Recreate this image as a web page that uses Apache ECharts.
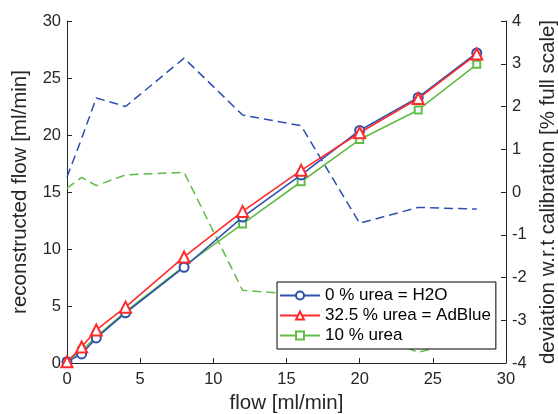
<!DOCTYPE html>
<html><head><meta charset="utf-8">
<script src="https://cdn.jsdelivr.net/npm/echarts@6/dist/echarts.min.js"></script>
<style>html,body{margin:0;padding:0;background:#fff}#c{width:558px;height:414px}</style>
</head><body><div id="c"></div>
<script>
const flow = [0, 1, 2, 4, 8, 12, 16, 20, 24, 28];
const h2o = [0.1, 0.8, 2.2, 4.4, 8.4, 12.8, 16.5, 20.4, 23.3, 27.2];
const adblue = [0.1, 1.4, 2.9, 4.9, 9.3, 13.3, 16.9, 20.2, 23.2, 27.1];
const urea10 = [0.1, 1.1, 2.3, 4.5, 8.5, 12.2, 15.9, 19.6, 22.2, 26.2];
const devH2o = [0.35, 1.25, 2.2, 2.0, 3.13, 1.8, 1.55, -0.73, -0.36, -0.4];
const devUrea10 = [0.09, 0.34, 0.15, 0.4, 0.46, -2.3, -2.4, -3.2, -3.75, -3.4];
const seriesNames = ['0 % urea = H2O', '32.5 % urea = AdBlue', '10 % urea'];
const xTicks = [0, 5, 10, 15, 20, 25, 30];

const blue = '#2d50b0', red = '#ff2b2b', green = '#62bb45';
const font = 'Liberation Sans, Arial, sans-serif';
const axisCol = '#262626';
const pair = (xs, ys) => xs.map((x, i) => [x, ys[i]]);

const chart = echarts.init(document.getElementById('c'), null, {renderer: 'canvas'});
const axisCommon = {
  axisLine: {show: true, lineStyle: {color: axisCol, width: 1}},
  axisTick: {show: true, inside: true, length: 5, lineStyle: {color: axisCol}},
  splitLine: {show: false},
  axisLabel: {color: axisCol, fontSize: 16.5, fontFamily: font},
  nameTextStyle: {color: axisCol, fontSize: 20.5, fontFamily: font},
  nameLocation: 'middle'
};
chart.setOption({
  animation: false,
  backgroundColor: '#fff',
  grid: {left: 67, right: 52, top: 21, bottom: 51, containLabel: false, outerBoundsMode: 'none'},
  legend: {
    data: seriesNames,
    orient: 'vertical',
    left: 277, top: 282,
    itemWidth: 40, itemHeight: 10, itemGap: 3,
    padding: [5, 5, 5, 2],
    borderColor: '#000', borderWidth: 1,
    backgroundColor: '#fff',
    textStyle: {fontSize: 17, fontFamily: font, color: '#000', lineHeight: 16}
  },
  xAxis: Object.assign({}, axisCommon, {
    type: 'value', min: 0, max: 30, interval: 5,
    name: 'flow [ml/min]', nameGap: 29,
    axisLabel: Object.assign({}, axisCommon.axisLabel, {margin: 8})
  }),
  yAxis: [
    Object.assign({}, axisCommon, {
      type: 'value', min: 0, max: 30, interval: 5, position: 'left',
      name: 'reconstructed flow [ml/min]', nameGap: 36,
      axisLabel: Object.assign({}, axisCommon.axisLabel, {margin: 6})
    }),
    Object.assign({}, axisCommon, {
      type: 'value', min: -4, max: 4, interval: 1, position: 'right',
      name: 'deviation w.r.t calibration [% full scale]', nameGap: 30,
      nameRotate: 90,
      axisLabel: Object.assign({}, axisCommon.axisLabel, {margin: 6})
    })
  ],
  series: [
    {name: 'devH2o', type: 'line', yAxisIndex: 1, data: pair(flow, devH2o), symbol: 'none',
     lineStyle: {color: blue, width: 1.5, type: [9, 5]}, z: 1},
    {name: 'devUrea10', type: 'line', yAxisIndex: 1, data: pair(flow, devUrea10), symbol: 'none',
     lineStyle: {color: green, width: 1.5, type: [9, 5]}, z: 1},
    {name: seriesNames[0], type: 'line', data: pair(flow, h2o), symbol: 'emptyCircle', symbolSize: 9,
     itemStyle: {color: blue, borderWidth: 1.2}, lineStyle: {color: blue, width: 1.6}, z: 3},
    {name: seriesNames[1], type: 'line', data: pair(flow, adblue), symbol: 'emptyTriangle', symbolSize: 11,
     itemStyle: {color: red, borderWidth: 1.2}, lineStyle: {color: red, width: 1.6}, z: 4},
    {name: seriesNames[2], type: 'line', data: pair(flow, urea10), symbol: 'emptyRect', symbolSize: 7,
     itemStyle: {color: green, borderWidth: 1.2}, lineStyle: {color: green, width: 1.6}, z: 2}
  ]
});
</script></body></html>
